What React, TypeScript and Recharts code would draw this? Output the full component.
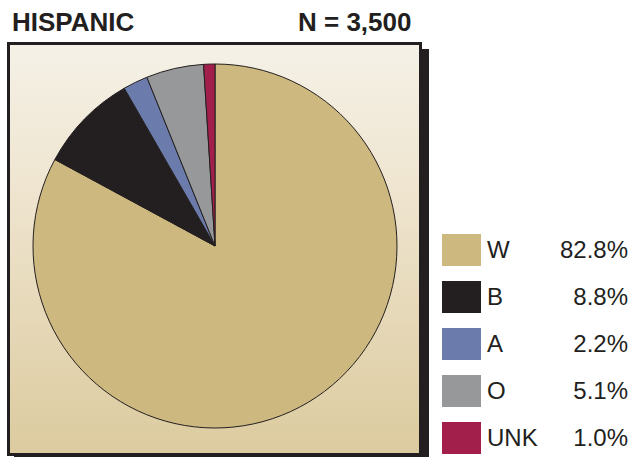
import { PieChart, Pie, Cell } from "recharts"

const categories = ["W", "B", "A", "O", "UNK"]
const shares = [82.8, 8.8, 2.2, 5.1, 1.0]
const shareLabels = ["82.8%", "8.8%", "2.2%", "5.1%", "1.0%"]
const sliceColors = ["#cdb97f", "#231f20", "#6b7bab", "#97989a", "#a31f4b"]

const title = "HISPANIC"
const sampleSize = "N = 3,500"

const data = categories.map((name, i) => ({ name, value: shares[i], label: shareLabels[i] }))

function LegendList() {
  return (
    <div style={{ position: "absolute", left: 442, top: 234, width: 186 }}>
      {data.map((d, i) => (
        <div
          key={d.name}
          style={{ display: "flex", alignItems: "center", height: 32, marginBottom: i < data.length - 1 ? 15 : 0 }}
        >
          <div style={{ width: 39, height: 32, background: sliceColors[i] }} />
          <span style={{ marginLeft: 6, fontSize: 24, flex: 1 }}>{d.name}</span>
          <span style={{ fontSize: 24 }}>{d.label}</span>
        </div>
      ))}
    </div>
  )
}

export default function App() {
  return (
    <div
      style={{
        position: "absolute",
        left: 0,
        top: 0,
        width: 632,
        height: 457,
        background: "#fff",
        overflow: "hidden",
        fontFamily: "'Liberation Sans', Arial, sans-serif",
        color: "#231f20",
      }}
    >
      <div style={{ position: "absolute", left: 12, top: 6, fontSize: 26, fontWeight: "bold", lineHeight: "32px" }}>
        {title}
      </div>
      <div style={{ position: "absolute", left: 298, top: 6, fontSize: 26, fontWeight: "bold", lineHeight: "32px" }}>
        {sampleSize}
      </div>
      <div
        style={{
          position: "absolute",
          left: 7,
          top: 42,
          width: 409,
          height: 408,
          border: "3px solid #231f20",
          background: "linear-gradient(to bottom, #f5f1e7 0%, #efe5d0 35%, #dccb9f 100%)",
          boxShadow: "7px 7px 0 #231f20",
        }}
      />
      <div style={{ position: "absolute", left: 0, top: 0 }}>
        <PieChart width={632} height={457} margin={{ top: 0, right: 0, bottom: 0, left: 0 }}>
          <Pie
            data={data}
            dataKey="value"
            nameKey="name"
            cx={215}
            cy={246}
            outerRadius={182}
            startAngle={90}
            endAngle={-270}
            stroke="#231f20"
            strokeWidth={1}
            isAnimationActive={false}
          >
            {data.map((d, i) => (
              <Cell key={d.name} fill={sliceColors[i]} />
            ))}
          </Pie>
        </PieChart>
      </div>
      <LegendList />
    </div>
  )
}
